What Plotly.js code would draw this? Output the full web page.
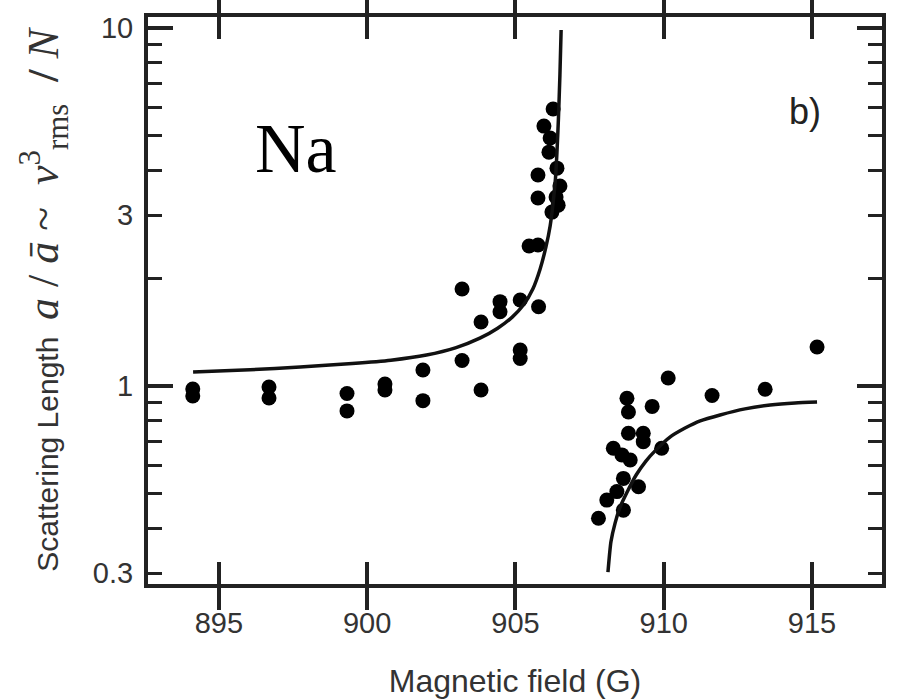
<!DOCTYPE html>
<html><head><meta charset="utf-8">
<script src="https://cdn.plot.ly/plotly-3.0.1.min.js"></script>
<style>html,body{margin:0;padding:0;background:#fff}#chart{width:897px;height:699px}</style>
</head><body><div id="chart"></div>
<script>
// Measured data points (magnetic field in G, scattering length ratio)
const fieldB = [894.12, 894.12, 896.69, 896.69, 899.32, 899.32, 900.60, 900.60, 901.88, 901.88,
  903.20, 903.20, 903.84, 903.84, 904.48, 904.48, 905.16, 905.16, 905.16, 905.78,
  906.27, 905.96, 906.17, 906.13, 905.76, 906.40, 906.50, 905.76, 906.37, 906.44,
  906.23, 905.46, 905.76,
  910.15, 909.61, 908.76, 908.81, 911.63, 913.42, 915.17, 908.81, 909.31, 908.30,
  908.59, 909.31, 909.93, 908.87, 908.64, 909.15, 908.42, 908.08, 908.64, 907.80];
const scatRatio = [0.981, 0.938, 0.994, 0.926, 0.953, 0.852, 1.013, 0.975, 1.108, 0.910,
  1.866, 1.178, 1.509, 0.975, 1.720, 1.612, 1.739, 1.260, 1.193, 1.665,
  5.94, 5.32, 4.93, 4.50, 3.886, 4.06, 3.62, 3.35, 3.37, 3.20,
  3.06, 2.46, 2.477,
  1.053, 0.877, 0.924, 0.846, 0.941, 0.979, 1.285, 0.738, 0.738, 0.670,
  0.642, 0.699, 0.670, 0.621, 0.552, 0.523, 0.507, 0.480, 0.450, 0.427];

// Theory curve below the resonance
const fitLowB = [894.13, 896.05, 897.74, 899.50, 900.80, 902.00, 903.00, 903.80, 904.40, 904.90,
  905.26, 905.59, 905.83, 906.03, 906.17, 906.27, 906.35, 906.40, 906.45, 906.50, 906.54];
const fitLowA = [1.094, 1.110, 1.130, 1.155, 1.180, 1.220, 1.280, 1.360, 1.450, 1.560,
  1.680, 1.870, 2.120, 2.450, 2.800, 3.250, 3.800, 4.500, 5.600, 7.400, 9.870];
// Theory curve above the resonance
const fitHighB = [908.12, 908.22, 908.36, 908.53, 908.80, 909.07, 909.40, 909.74, 910.21, 910.72,
  911.23, 911.90, 912.74, 913.59, 914.43, 915.17];
const fitHighA = [0.302, 0.367, 0.414, 0.459, 0.512, 0.564, 0.617, 0.663, 0.720, 0.763,
  0.799, 0.830, 0.863, 0.885, 0.897, 0.902];

const xTickVals = [895, 900, 905, 910, 915];
const xTickText = ['895', '900', '905', '910', '915'];
const yTickVals = [0.3, 1, 3, 10];
const yTickText = ['0.3', '1', '3', '10'];
const yMinorVals = [0.4, 0.5, 0.6, 0.7, 0.8, 0.9, 2, 4, 5, 6, 7, 8, 9];
const yMajorVals = [1, 10];

const xRange = [892.61, 917.36];
const yRange = [-0.5531, 1.0307];

const traces = [
  {x: fieldB, y: scatRatio, type: 'scatter', mode: 'markers',
   marker: {color: '#000', size: 15}},
  {x: fitLowB, y: fitLowA, type: 'scatter', mode: 'lines', yaxis: 'y2',
   line: {color: '#111', width: 3.5, shape: 'spline', smoothing: 0.6}},
  {x: fitHighB, y: fitHighA, type: 'scatter', mode: 'lines', yaxis: 'y2',
   line: {color: '#111', width: 3.5, shape: 'spline', smoothing: 0.6}}
];

const tickFont = {family: 'Liberation Sans, Arial, sans-serif', size: 29, color: '#333'};
const mathStyle = 'font-family:Liberation Serif, Times New Roman, serif;font-size:44px';

const layout = {
  width: 897, height: 699,
  margin: {l: 148, r: 15, t: 17, b: 115},
  paper_bgcolor: '#fff', plot_bgcolor: '#fff',
  showlegend: false,
  font: {family: 'Liberation Sans, Arial, sans-serif', color: '#333'},
  xaxis: {
    range: xRange, autorange: false,
    tickmode: 'array', tickvals: xTickVals, ticktext: xTickText,
    ticks: 'inside', ticklen: 22, tickwidth: 4, tickcolor: '#222',
    showline: true, linewidth: 4, linecolor: '#222', mirror: 'allticks',
    showgrid: false, zeroline: false,
    tickfont: tickFont, ticklabelstandoff: 10,
    automargin: false,
    title: {text: 'Magnetic field (G)', standoff: 40,
      font: {family: 'Liberation Sans, Arial, sans-serif', size: 32, color: '#333'}}
  },
  yaxis: {
    type: 'log', range: yRange, autorange: false,
    tickmode: 'array', tickvals: yTickVals, ticktext: yTickText,
    ticks: 'inside', ticklen: 14, tickwidth: 3, tickcolor: '#222',
    minor: {tickmode: 'array', tickvals: yMinorVals, ticks: 'inside', ticklen: 14,
      tickwidth: 3, tickcolor: '#222', showgrid: false},
    showline: true, linewidth: 4, linecolor: '#222', mirror: 'allticks',
    showgrid: false, zeroline: false,
    tickfont: tickFont, ticklabelstandoff: 5,
    automargin: false,
    title: {text: 'Scattering Length&nbsp;&nbsp;<span style="' + mathStyle + '"><i>a</i>&nbsp;/&nbsp;<i>ā</i>&nbsp;~&nbsp;&nbsp;<i>v</i><sup>3</sup><sub>rms</sub>&nbsp;&nbsp;<b>/</b>&nbsp;<i>N</i></span>',
      standoff: 26,
      font: {family: 'Liberation Sans, Arial, sans-serif', size: 30, color: '#333'}}
  },
  yaxis2: {
    type: 'log', range: yRange, autorange: false, overlaying: 'y', side: 'left',
    tickmode: 'array', tickvals: yMajorVals,
    ticks: 'inside', ticklen: 25, tickwidth: 3.5, tickcolor: '#222',
    showline: false, mirror: 'allticks', showticklabels: false,
    showgrid: false, zeroline: false
  },
  annotations: [
    {xref: 'paper', yref: 'paper', x: 0.2023, y: 0.7672, xanchor: 'center', yanchor: 'middle',
     text: 'Na', showarrow: false,
     font: {family: 'Liberation Serif, Times New Roman, serif', size: 70, color: '#000'}},
    {xref: 'paper', yref: 'paper', x: 0.8951, y: 0.8333, xanchor: 'center', yanchor: 'middle',
     text: 'b)', showarrow: false,
     font: {family: 'Liberation Sans, Arial, sans-serif', size: 36, color: '#222'}}
  ]
};

Plotly.newPlot('chart', traces, layout, {displayModeBar: false, staticPlot: true});
</script>
</body></html>
